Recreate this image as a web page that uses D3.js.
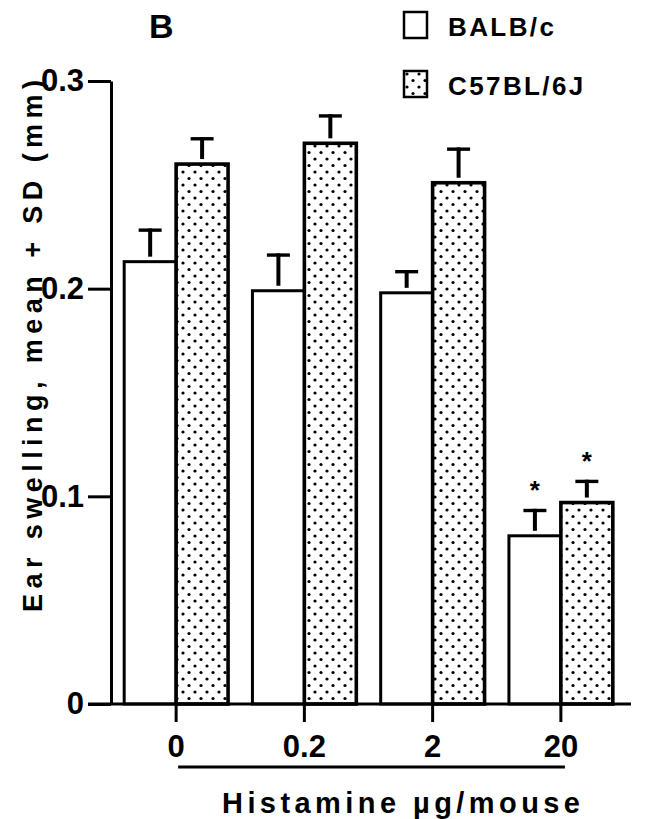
<!DOCTYPE html>
<html>
<head>
<meta charset="utf-8">
<script src="https://cdn.jsdelivr.net/npm/d3@7"></script>
<style>
  body { margin: 0; background: #fff; }
  text { font-family: "Liberation Sans", Arial, Helvetica, sans-serif; font-weight: bold; fill: #000; }
</style>
</head>
<body>
<div id="chart"></div>
<script>
// data (ear swelling, mm)
var doses = ["0", "0.2", "2", "20"];
var strains = ["BALB/c", "C57BL/6J"];
var balbMean = [0.213, 0.199, 0.198, 0.081];
var balbSD = [0.016, 0.018, 0.011, 0.013];
var c57Mean = [0.260, 0.270, 0.251, 0.097];
var c57SD = [0.013, 0.014, 0.017, 0.011];
var starred = [false, false, false, true];
var yTicks = [0, 0.1, 0.2, 0.3];

var width = 646, height = 819;

var rows = [];
doses.forEach(function(d, i) {
	rows.push({dose: d, strain: strains[0], mean: balbMean[i], sd: balbSD[i], star: starred[i]});
	rows.push({dose: d, strain: strains[1], mean: c57Mean[i], sd: c57SD[i], star: starred[i]});
});

var svg = d3.select("#chart")
	.append("svg")
	.attr("width", width)
	.attr("height", height);

// stipple fill for the C57BL/6J bars
var pat = svg.append("defs").append("pattern")
	.attr("id", "dots")
	.attr("patternUnits", "userSpaceOnUse")
	.attr("width", 12)
	.attr("height", 13);
pat.append("rect").attr("width", 12).attr("height", 13).attr("fill", "#fff");
pat.append("circle").attr("cx", 3).attr("cy", 3).attr("r", 1.6).attr("fill", "#000");
pat.append("circle").attr("cx", 9).attr("cy", 9.5).attr("r", 1.6).attr("fill", "#000");

var x0 = d3.scaleBand()
	.domain(doses)
	.range([112, 625])
	.paddingInner(0.19)
	.paddingOuter(0.095);

var x1 = d3.scaleBand()
	.domain(strains)
	.range([0, x0.bandwidth()]);

var y = d3.scaleLinear()
	.domain([0, 0.3])
	.range([704, 81]);

var fillFor = function(s) { return s === strains[0] ? "#fff" : "url(#dots)"; };

// bars
svg.append("g").selectAll("rect")
	.data(rows)
	.enter().append("rect")
	.attr("x", function(d) { return x0(d.dose) + x1(d.strain); })
	.attr("y", function(d) { return y(d.mean); })
	.attr("width", x1.bandwidth())
	.attr("height", function(d) { return y(0) - y(d.mean); })
	.attr("fill", function(d) { return fillFor(d.strain); })
	.attr("stroke", "#000")
	.attr("stroke-width", function(d) { return d.strain === strains[0] ? 3 : 3.6; });

// error bars (T shapes, drawn a little above the bar top)
var cx = function(d) { return x0(d.dose) + x1(d.strain) + x1.bandwidth() / 2; };
var err = svg.append("g").selectAll("g")
	.data(rows)
	.enter().append("g");
err.append("line")
	.attr("x1", cx).attr("x2", cx)
	.attr("y1", function(d) { return y(d.mean) - 5; })
	.attr("y2", function(d) { return y(d.mean + d.sd); })
	.attr("stroke", "#000").attr("stroke-width", 4);
err.append("line")
	.attr("x1", function(d) { return cx(d) - 11.5; })
	.attr("x2", function(d) { return cx(d) + 11.5; })
	.attr("y1", function(d) { return y(d.mean + d.sd) + 1.7; })
	.attr("y2", function(d) { return y(d.mean + d.sd) + 1.7; })
	.attr("stroke", "#000").attr("stroke-width", 3.4);

svg.append("g").selectAll("text")
	.data(rows.filter(function(d) { return d.star; }))
	.enter().append("text")
	.attr("x", cx)
	.attr("y", function(d) { return y(d.mean + d.sd) - 10; })
	.attr("text-anchor", "middle")
	.style("font-size", "26px")
	.text("*");

// y axis
var yAxis = svg.append("g")
	.attr("transform", "translate(111,0)")
	.call(d3.axisLeft(y)
		.tickValues(yTicks)
		.tickSize(23)
		.tickSizeOuter(0)
		.tickPadding(4)
		.tickFormat(function(d) { return d === 0 ? "0" : d3.format(".1f")(d); }));
yAxis.select(".domain").attr("stroke-width", 3);
yAxis.selectAll(".tick line").attr("stroke-width", 3);
yAxis.selectAll(".tick text")
	.style("font-size", "31px")
	.style("font-family", "'Liberation Sans', Arial, sans-serif")
	.style("font-weight", "bold");

// x axis
var xAxis = svg.append("g")
	.attr("transform", "translate(0," + y(0) + ")")
	.call(d3.axisBottom(x0).tickSize(18).tickPadding(13));
xAxis.select(".domain").remove();
xAxis.selectAll(".tick line").attr("stroke-width", 3);
xAxis.selectAll(".tick text")
	.style("font-size", "31px")
	.style("font-family", "'Liberation Sans', Arial, sans-serif")
	.style("font-weight", "bold");

svg.append("line")
	.attr("x1", 88).attr("x2", 631)
	.attr("y1", y(0)).attr("y2", y(0))
	.attr("stroke", "#000").attr("stroke-width", 3);

// line over the x title
svg.append("line")
	.attr("x1", x0(doses[0]) + x0.bandwidth() / 2 + 2)
	.attr("x2", x0(doses[3]) + x0.bandwidth() / 2 + 4)
	.attr("y1", 767).attr("y2", 767)
	.attr("stroke", "#000").attr("stroke-width", 3);

svg.append("text")
	.attr("x", 222).attr("y", 813)
	.attr("textLength", 358)
	.attr("lengthAdjust", "spacing")
	.style("font-size", "29px")
	.text("Histamine  \u00b5g/mouse");

svg.append("text")
	.attr("transform", "translate(42,612) rotate(-90)")
	.attr("textLength", 532)
	.attr("lengthAdjust", "spacing")
	.style("font-size", "27px")
	.text("Ear swelling, mean + SD  (mm)");

// panel letter
svg.append("text")
	.attr("x", 149).attr("y", 38)
	.style("font-size", "34px")
	.text("B");

// legend
var legend = svg.append("g").selectAll("g")
	.data(strains)
	.enter().append("g")
	.attr("transform", function(d, i) { return "translate(404," + (12 + i * 59) + ")"; });
legend.append("rect")
	.attr("width", 23).attr("height", 26)
	.attr("fill", fillFor)
	.attr("stroke", "#000").attr("stroke-width", 2.5);
legend.append("text")
	.attr("x", 44).attr("y", 24)
	.style("font-size", "26px")
	.style("letter-spacing", "2.4px")
	.text(function(d) { return d; });
</script>
</body>
</html>
